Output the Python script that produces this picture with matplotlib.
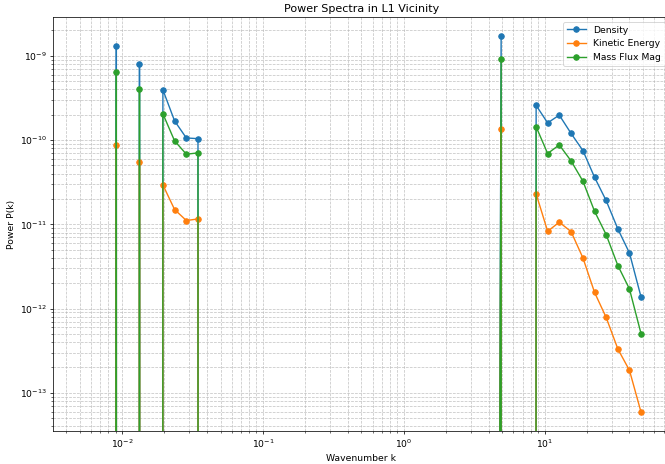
import numpy as np
import matplotlib
matplotlib.use("Agg")
import matplotlib.pyplot as plt

# Log-binned wavenumbers (empty bins carry zero power)
k = [0.00514, 0.00911, 0.0110, 0.0133, 0.0161, 0.0195, 0.0236, 0.0286, 0.0346,
     0.0419, 4.91, 5.94, 8.70, 10.5, 12.7, 15.4, 18.7, 22.6, 27.3, 33.1, 40.0, 48.4]

density = [0, 1.30e-9, 0, 8.0e-10, 0, 3.95e-10, 1.69e-10, 1.06e-10, 1.04e-10,
           0, 1.71e-9, 0, 2.58e-10, 1.60e-10, 1.98e-10, 1.20e-10, 7.5e-11,
           3.62e-11, 1.92e-11, 8.8e-12, 4.57e-12, 1.36e-12]

kinetic = [0, 8.7e-11, 0, 5.57e-11, 0, 2.94e-11, 1.50e-11, 1.11e-11, 1.16e-11,
           0, 1.36e-10, 0, 2.30e-11, 8.28e-12, 1.06e-11, 8.2e-12, 3.99e-12,
           1.56e-12, 7.88e-13, 3.31e-13, 1.85e-13, 5.85e-14]

massflux = [0, 6.4e-10, 0, 4.03e-10, 0, 2.05e-10, 9.8e-11, 6.8e-11, 7.05e-11,
            0, 9.1e-10, 0, 1.44e-10, 6.93e-11, 8.77e-11, 5.66e-11, 3.25e-11,
            1.43e-11, 7.57e-12, 3.24e-12, 1.71e-12, 4.99e-13]

fig = plt.figure(figsize=(10, 464 / 66.5), dpi=66.5)
ax = fig.add_axes([0.0802, 0.0705, 0.926, 0.892])

ax.loglog(k, density, "o-", label="Density")
ax.loglog(k, kinetic, "o-", label="Kinetic Energy")
ax.loglog(k, massflux, "o-", label="Mass Flux Mag")

ax.set_title("Power Spectra in L1 Vicinity")
ax.set_xlabel("Wavenumber k")
ax.set_ylabel("Power P(k)")
ax.grid(True, which="both", ls="--", alpha=0.75)
ax.legend(loc="upper right")

fig.savefig("out.png", dpi=66.5)
